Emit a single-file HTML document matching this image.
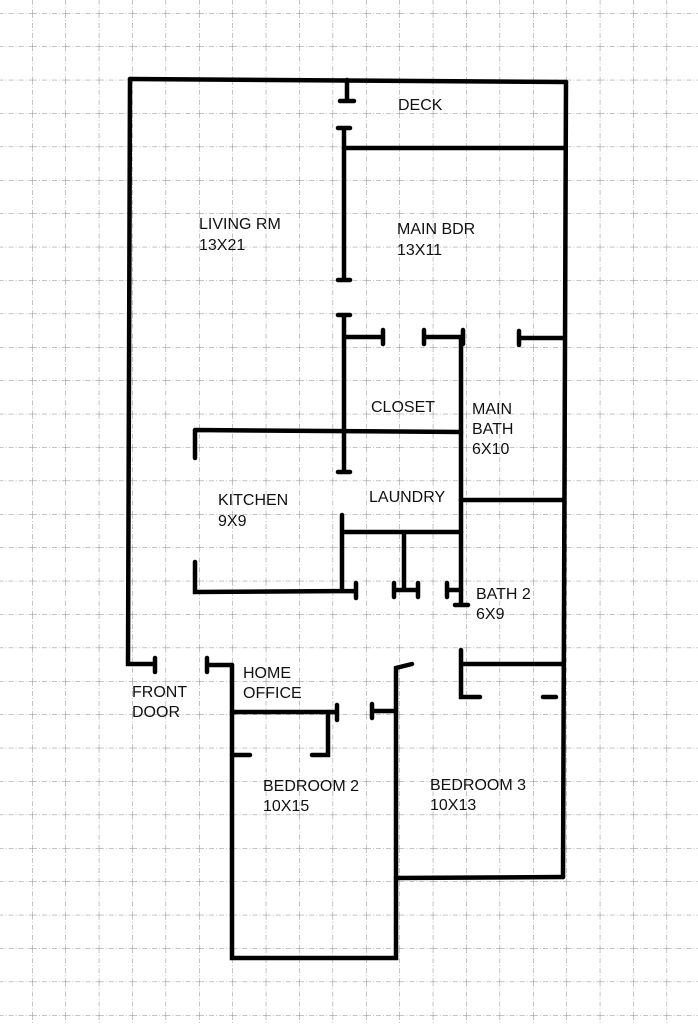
<!DOCTYPE html>
<html><head><meta charset="utf-8"><style>
body{margin:0;background:#fff;}
svg{display:block}
text{font-family:"Liberation Sans",sans-serif;font-size:16px;fill:#111}
</style></head><body>
<svg width="698" height="1024" viewBox="0 0 698 1024" xmlns="http://www.w3.org/2000/svg">
<defs>
<pattern id="g" x="32" y="13" width="33.4" height="33.4" patternUnits="userSpaceOnUse">
<path d="M0 0V33.4M0 0H33.4" stroke="#888" stroke-width="1" stroke-dasharray="5 2 1 2" fill="none"/>
</pattern>
</defs>
<rect width="698" height="1024" fill="url(#g)"/>
<g stroke="#000" stroke-width="4.5" stroke-linecap="round" fill="none">
<path d="M130 79L566 82"/>
<path d="M130 79L128 664L155 664M155 658V672"/>
<path d="M566 82L563 877"/>
<path d="M347 80V101M340 101H354M344 128V148M338 128H350"/>
<path d="M344 148H563"/>
<path d="M344 148V280M338 280H350"/>
<path d="M344 315V472M338 315H350M338 472H350M344 337H383M383 330V344"/>
<path d="M424 337H463M424 330V344M463 330V344"/>
<path d="M461 337V605M455 605H468"/>
<path d="M519 338H563M519 331V345"/>
<path d="M195 430L461 432M195 430V458"/>
<path d="M195 562V592L356 591M356 583V598"/>
<path d="M342 515V590M344 532H461M404 532V590M394 590H418M394 583V597M418 583V597"/>
<path d="M461 500H563"/>
<path d="M447 590H461M447 583V597"/>
<path d="M461 664H563M461 650V668M461 664V697H480"/>
<path d="M543 697H556"/>
<path d="M207 665H232M207 658V672"/>
<path d="M232 665V958H396V668L412 664"/>
<path d="M232 712H337M337 705V720"/>
<path d="M328 712V755H312M232 755H250"/>
<path d="M372 711H396M372 704V718"/>
<path d="M396 878L563 877"/>
</g>
<text x="398" y="110">DECK</text>
<text x="199" y="229">LIVING RM</text>
<text x="199" y="250">13X21</text>
<text x="397" y="234">MAIN BDR</text>
<text x="397" y="255">13X11</text>
<text x="371" y="412">CLOSET</text>
<text x="472" y="414">MAIN</text>
<text x="472" y="434">BATH</text>
<text x="472" y="454">6X10</text>
<text x="218" y="505">KITCHEN</text>
<text x="218" y="526">9X9</text>
<text x="369" y="502">LAUNDRY</text>
<text x="476" y="599">BATH 2</text>
<text x="476" y="619">6X9</text>
<text x="132" y="697">FRONT</text>
<text x="132" y="717">DOOR</text>
<text x="243" y="678">HOME</text>
<text x="243" y="698">OFFICE</text>
<text x="263" y="791">BEDROOM 2</text>
<text x="263" y="811">10X15</text>
<text x="430" y="790">BEDROOM 3</text>
<text x="430" y="810">10X13</text>
</svg>
</body></html>
